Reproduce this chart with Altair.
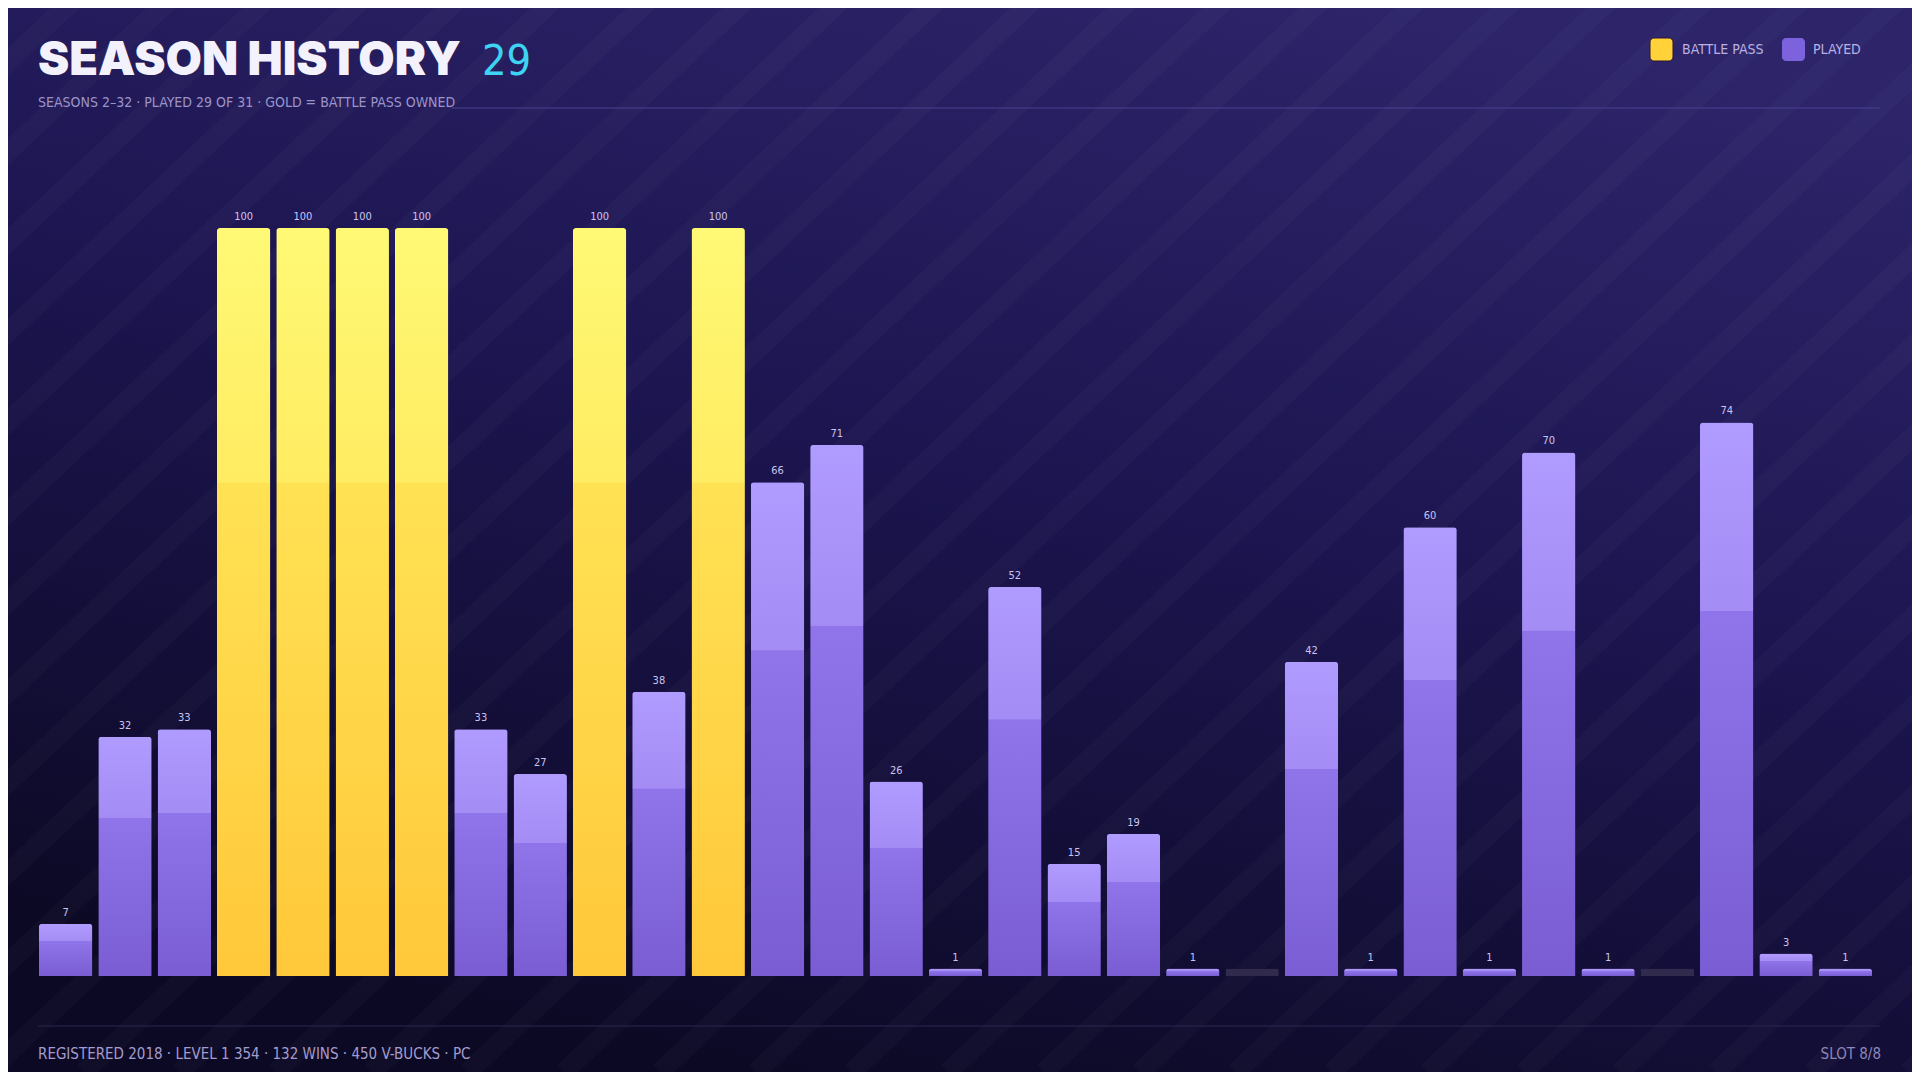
import altair as alt
import pandas as pd

# ---------------- data ----------------
seasons = [2, 3, 4, 5, 6, 7, 8, 9, 10, 11, 12, 13, 14, 15, 16, 17,
           18, 19, 20, 21, 22, 23, 24, 25, 26, 27, 28, 29, 30, 31, 32]
levels = [7, 32, 33, 100, 100, 100, 100, 33, 27, 100, 38, 100, 66, 71, 26, 1,
          52, 15, 19, 1, 0, 42, 1, 60, 1, 70, 1, 0, 74, 3, 1]
battle_pass = [False, False, False, True, True, True, True, False, False, True, False, True,
               False, False, False, False, False, False, False, False, False, False, False,
               False, False, False, False, False, False, False, False]
played = [True, True, True, True, True, True, True, True, True, True, True, True,
          True, True, True, True, True, True, True, True, False, True, True,
          True, True, True, True, False, True, True, True]

title_text = "SEASON HISTORY"
title_count = "29"
subtitle_text = "SEASONS 2\u201332  \u00b7  PLAYED 29 OF 31  \u00b7  GOLD = BATTLE PASS OWNED"
footer_text = "REGISTERED 2018  \u00b7  LEVEL 1 354  \u00b7  132 WINS  \u00b7  450 V-BUCKS  \u00b7  PC"
slot_text = "SLOT 8/8"
legend_labels = ["BATTLE PASS", "PLAYED"]

STUB = 1  # minimum drawn height for unplayed seasons

df = pd.DataFrame({
    "season": seasons,
    "level": levels,
    "bp": battle_pass,
    "played": played,
})
df["bar_h"] = [l if p else STUB for l, p in zip(levels, played)]

# ---------------- style ----------------
COND = "Liberation Sans Narrow, DejaVu Sans Condensed, Roboto, sans-serif"
TITLE_FONT = "Inter, Lato, sans-serif"
W, H = 1839, 748
PL, PT, PR, PB = 28, 220, 37, 96

gold_grad = alt.Gradient(
    gradient="linear", x1=0, x2=0, y1=0, y2=1,
    stops=[alt.GradientStop(offset=0, color="#fff975"),
           alt.GradientStop(offset=0.34, color="#ffec62"),
           alt.GradientStop(offset=0.341, color="#ffe254"),
           alt.GradientStop(offset=1, color="#ffc83a")])
purple_grad = alt.Gradient(
    gradient="linear", x1=0, x2=0, y1=0, y2=1,
    stops=[alt.GradientStop(offset=0, color="#b09bff"),
           alt.GradientStop(offset=0.34, color="#a38cf4"),
           alt.GradientStop(offset=0.341, color="#8f74ea"),
           alt.GradientStop(offset=1, color="#7a5dd2")])
bg_grad = alt.Gradient(
    gradient="linear", x1=0.75, x2=0.35, y1=0, y2=1,
    stops=[alt.GradientStop(offset=0, color="#2d246a"),
           alt.GradientStop(offset=0.45, color="#1c1550"),
           alt.GradientStop(offset=1, color="#0c0924")])

one = pd.DataFrame({"k": [0]})

# background
bg = alt.Chart(one).mark_rect(color=bg_grad).encode(
    x=alt.value(-PL), x2=alt.value(W + PR), y=alt.value(-PT), y2=alt.value(H + PB))

# diagonal stripes (decoration)
stripe_x = list(range(-1200, 1950, 96))
stripes_df = pd.DataFrame({
    "x0": stripe_x,
    "x1": [x + 1150 for x in stripe_x],
    "y0": [H + PB] * len(stripe_x),
    "y1": [H + PB - 1080] * len(stripe_x),
})
stripes = alt.Chart(stripes_df).mark_rule(color="#ffffff", strokeWidth=20, opacity=0.022).encode(
    x=alt.X("x0:Q", scale=None, axis=None), x2="x1:Q",
    y=alt.Y("y0:Q", scale=None, axis=None), y2="y1:Q")

# header
title = alt.Chart(one).mark_text(
    font=TITLE_FONT, fontWeight=900, fontSize=47, color="#f3f1fb",
    align="left", baseline="alphabetic").encode(
    x=alt.value(2), y=alt.value(75 - PT - 8), text=alt.value(title_text))
count = alt.Chart(one).mark_text(
    font=COND, fontSize=43, color="#3ed3f3", align="left", baseline="alphabetic").encode(
    x=alt.value(446), y=alt.value(75 - PT - 8), text=alt.value(title_count))
subtitle = alt.Chart(one).mark_text(
    font=COND, fontSize=14, color="#9c94c8", align="left", baseline="alphabetic").encode(
    x=alt.value(2), y=alt.value(107 - PT - 8), text=alt.value(subtitle_text))
header_line = alt.Chart(one).mark_rule(color="#4a4190", strokeWidth=1).encode(
    x=alt.value(416), x2=alt.value(1844), y=alt.value(108 - PT - 8))

# legend
leg_gold = alt.Chart(one).mark_rect(color="#ffd23a", cornerRadius=4, stroke="#2a1530", strokeWidth=1).encode(
    x=alt.value(1614), x2=alt.value(1637), y=alt.value(-190), y2=alt.value(-167))
leg_gold_t = alt.Chart(one).mark_text(font=COND, fontSize=14, color="#b9b1e2", align="left", baseline="middle").encode(
    x=alt.value(1646), y=alt.value(-178), text=alt.value(legend_labels[0]))
leg_pur = alt.Chart(one).mark_rect(color="#7c62dc", cornerRadius=4).encode(
    x=alt.value(1746), x2=alt.value(1769), y=alt.value(-190), y2=alt.value(-167))
leg_pur_t = alt.Chart(one).mark_text(font=COND, fontSize=14, color="#b9b1e2", align="left", baseline="middle").encode(
    x=alt.value(1777), y=alt.value(-178), text=alt.value(legend_labels[1]))

# footer
footer_line = alt.Chart(one).mark_rule(color="#2c2650", strokeWidth=1).encode(
    x=alt.value(2), x2=alt.value(1844), y=alt.value(1026 - PT - 8))
footer = alt.Chart(one).mark_text(font=COND, fontSize=15, color="#a49cce", align="left", baseline="alphabetic").encode(
    x=alt.value(2), y=alt.value(1059 - PT - 8), text=alt.value(footer_text))
slot = alt.Chart(one).mark_text(font=COND, fontSize=15, color="#8d86b8", align="right", baseline="alphabetic").encode(
    x=alt.value(1845), y=alt.value(1059 - PT - 8), text=alt.value(slot_text))

# bars
x_enc = alt.X("season:O",
              scale=alt.Scale(domain=seasons, paddingInner=0.1, paddingOuter=0.05),
              axis=alt.Axis(title=None, labelAngle=0, ticks=False, domain=True,
                            domainColor="#2b2553", domainWidth=1,
                            labelFont=COND, labelFontSize=12, labelPadding=10,
                            labelColor={"condition": {"test": "datum.value == 22 || datum.value == 29",
                                                      "value": "#555079"},
                                        "value": "#9891c4"}))
y_enc = alt.Y("bar_h:Q", scale=alt.Scale(domain=[0, 100], nice=False, zero=True), axis=None)

base = alt.Chart(df).encode(x=x_enc, y=y_enc)

gold_bars = base.transform_filter("datum.bp").mark_bar(
    color=gold_grad, cornerRadiusTopLeft=3, cornerRadiusTopRight=3)
purple_bars = base.transform_filter("datum.played && !datum.bp").mark_bar(
    color=purple_grad, cornerRadiusTopLeft=3, cornerRadiusTopRight=3)
stub_bars = base.transform_filter("!datum.played").mark_bar(
    color="#302b4c", cornerRadiusTopLeft=2, cornerRadiusTopRight=2)
labels = base.transform_filter("datum.played").mark_text(
    font=COND, fontSize=11, color="#cbc4ef", baseline="bottom", dy=-6).encode(
    text="level:Q")

chart = alt.layer(
    bg, stripes, title, count, subtitle, header_line,
    leg_gold, leg_gold_t, leg_pur, leg_pur_t,
    footer_line, footer, slot,
    stub_bars, purple_bars, gold_bars, labels,
).properties(
    width=W, height=H,
    padding={"left": PL, "top": PT, "right": PR, "bottom": PB},
    autosize=alt.AutoSizeParams(type="none"),
    background="#140f35",
).configure_view(stroke=None)

chart.save("out.html", embed_options={"renderer": "svg", "actions": False})
